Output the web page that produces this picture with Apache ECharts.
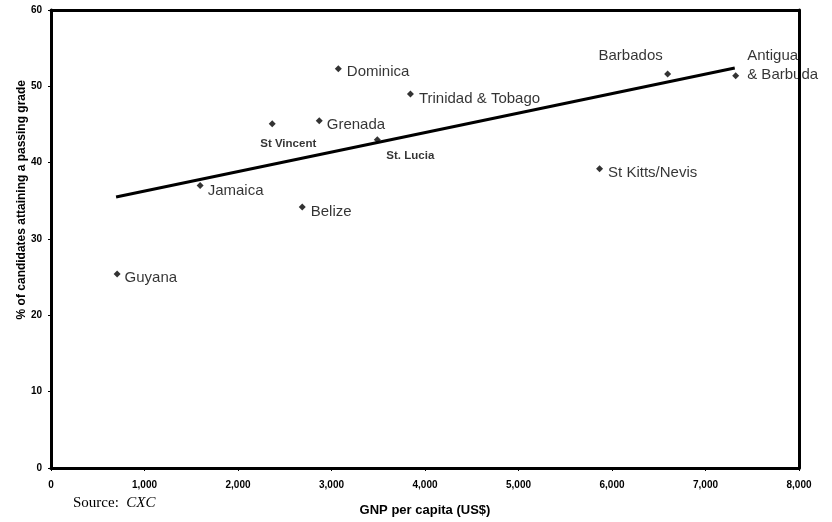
<!DOCTYPE html>
<html>
<head>
<meta charset="utf-8">
<script src="https://cdn.jsdelivr.net/npm/echarts@6/dist/echarts.min.js"></script>
<style>html,body{margin:0;padding:0;background:#fff}#c{width:832px;height:522px}</style>
</head>
<body>
<div id="c"></div>
<script>
var countries = ['Guyana','Jamaica','St Vincent','Grenada','Dominica','Trinidad & Tobago','St. Lucia','Belize','Barbados','Antigua\n& Barbuda','St Kitts/Nevis'];
var gnp = [707, 1595, 2366, 2869, 3073, 3844, 3490, 2687, 6595, 7323, 5867];
var passRate = [25.4, 37.0, 45.1, 45.5, 52.3, 49.0, 43.0, 34.2, 51.6, 51.4, 39.2];
var trendX = [696, 7313];
var trendY = [35.5, 52.4];
var xTicks = ['0','1,000','2,000','3,000','4,000','5,000','6,000','7,000','8,000'];
var yTicks = ['0','10','20','30','40','50','60'];

var F = 'Liberation Sans, Arial, sans-serif';
var labelStyle = {
  'Guyana': {pos:'right', off:[0,4]},
  'Jamaica': {pos:'right', off:[0,5]},
  'St Vincent': {pos:'inside', off:[16,20], small:true},
  'Grenada': {pos:'right', off:[0,4]},
  'Dominica': {pos:'right', off:[1,3]},
  'Trinidad & Tobago': {pos:'right', off:[1,5]},
  'St. Lucia': {pos:'inside', off:[33,16], small:true},
  'Belize': {pos:'right', off:[1,5]},
  'Barbados': {pos:'inside', off:[-37,-18]},
  'Antigua\n& Barbuda': {pos:'right', off:[4,-10], lh:19},
  'St Kitts/Nevis': {pos:'right', off:[1,4]}
};

var pts = countries.map(function(n,i){
  var s = labelStyle[n];
  return {
    value:[gnp[i], passRate[i]], name:n,
    label:{show:true, formatter:n, position:s.pos, offset:s.off, distance:4,
      fontSize: s.small?11.5:15, fontWeight: s.small?'bold':'normal',
      lineHeight: s.lh||undefined, color:'#000', fontFamily:F}
  };
});

var chart = echarts.init(document.getElementById('c'));
chart.setOption({
  animation:false,
  backgroundColor:'#fff',
  grid:{left:51, right:33, top:10, bottom:54},
  xAxis:[{
    type:'value', min:0, max:8000, interval:1000,
    axisLine:{onZero:false, lineStyle:{color:'#000', width:3}},
    axisTick:{show:true, length:3, lineStyle:{color:'#000'}},
    splitLine:{show:false},
    axisLabel:{margin:12, color:'#000', fontSize:10, fontWeight:'bold', fontFamily:F,
      formatter:function(v){return xTicks[Math.round(v/1000)];}},
    name:'GNP per capita (US$)', nameLocation:'middle', nameGap:36,
    nameTextStyle:{color:'#000', fontSize:13, fontWeight:'bold', fontFamily:F},
    z:10
  },{
    type:'value', position:'top', min:0, max:8000, interval:1000,
    axisLine:{show:true, onZero:false, lineStyle:{color:'#000', width:3}},
    axisTick:{show:false}, axisLabel:{show:false}, splitLine:{show:false}, z:10
  }],
  yAxis:[{
    type:'value', min:0, max:60, interval:10,
    axisLine:{show:true, onZero:false, lineStyle:{color:'#000', width:3}},
    axisTick:{show:true, length:3, lineStyle:{color:'#000'}},
    splitLine:{show:false},
    axisLabel:{margin:9, color:'#000', fontSize:10, fontWeight:'bold', fontFamily:F,
      formatter:function(v){return yTicks[Math.round(v/10)];}},
    z:10
  },{
    type:'value', position:'right', min:0, max:60, interval:10,
    axisLine:{show:true, onZero:false, lineStyle:{color:'#000', width:3}},
    axisTick:{show:false}, axisLabel:{show:false}, splitLine:{show:false}, z:10
  }],
  graphic:[
    {type:'text', left:16, top:80, rotation:Math.PI/2, originX:0, originY:0,
      style:{text:'% of candidates attaining a passing grade', fill:'#000',
        font:'bold 12px Liberation Sans, Arial, sans-serif'}, z:20},
    {type:'text', left:73, top:496,
      style:{rich:{a:{fontFamily:'Liberation Serif, Times New Roman, serif', fontSize:15, fill:'#000'},
                   b:{fontFamily:'Liberation Serif, Times New Roman, serif', fontSize:15, fontStyle:'italic', fill:'#000'}},
        text:'{a|Source:  }{b|CXC}'}}
  ],
  series:[{
    type:'line', data:trendX.map(function(x,i){return [x,trendY[i]];}),
    symbol:'none', lineStyle:{color:'#000', width:3}, z:3
  },{
    type:'scatter', data:pts, symbol:'diamond', symbolSize:7,
    itemStyle:{color:'#000'}, z:4
  }]
});
</script>
</body>
</html>
